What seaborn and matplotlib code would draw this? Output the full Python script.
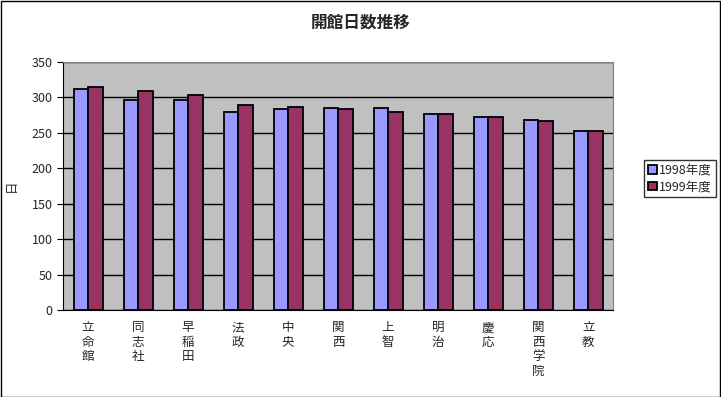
import numpy as np
import pandas as pd
import matplotlib
matplotlib.use("Agg")
import matplotlib.pyplot as plt
import seaborn as sns

# データ
universities = ["立命館", "同志社", "早稲田", "法政", "中央", "関西", "上智", "明治", "慶応", "関西学院", "立教"]
days_1998 = [312, 296, 296, 279, 283, 285, 285, 276, 273, 268, 252]
days_1999 = [314, 309, 303, 289, 286, 283, 279, 276, 272, 266, 252]
years = ["1998年度", "1999年度"]

df = pd.DataFrame({
    "大学": universities * 2,
    "年度": [years[0]] * len(universities) + [years[1]] * len(universities),
    "日数": days_1998 + days_1999,
})

sns.set_style("white")
plt.rcParams["font.family"] = ["Noto Sans CJK JP", "DejaVu Sans"]

fig = plt.figure(figsize=(7.21, 3.97), dpi=100)
ax = fig.add_axes([0.0874, 0.219, 0.763, 0.625])
ax.set_facecolor("#C0C0C0")

sns.barplot(data=df, x="大学", y="日数", hue="年度", palette=["#9999FF", "#993366"],
            saturation=1, width=0.58, gap=0, edgecolor="black", linewidth=1.3, ax=ax, zorder=3)

# 目盛り・グリッド
ax.set_ylim(0, 350)
ax.set_yticks(range(0, 351, 50))
ax.set_xlim(-0.5, len(universities) - 0.5)
ax.yaxis.grid(True, color="black", linewidth=1, zorder=1)
ax.set_axisbelow(True)
ax.set_xticks(range(len(universities)))
ax.set_xticklabels(["\n".join(u) for u in universities], fontsize=9, linespacing=1.15)
ax.set_xticks(np.arange(-0.5, len(universities), 1), minor=True)
ax.tick_params(axis="x", which="major", length=0, pad=8)
ax.tick_params(axis="x", which="minor", length=4, direction="out", color="black")
ax.tick_params(axis="y", length=4, direction="out", color="black", labelsize=9, left=True)
for s in ax.spines.values():
    s.set_visible(True)
    s.set_color("black")
ax.spines["top"].set_color("#808080")
ax.spines["right"].set_color("#808080")

ax.set_xlabel("")
ax.set_ylabel("日", rotation=90, fontsize=9, labelpad=10)
fig.suptitle("開館日数推移", x=0.5, y=0.965, fontsize=12, fontweight="bold")

leg = ax.legend(loc="center left", bbox_to_anchor=(1.045, 0.53), frameon=True, fontsize=9,
                handlelength=0.7, handleheight=0.7, handletextpad=0.2, borderpad=0.3,
                labelspacing=0.3, fancybox=False, edgecolor="black", title=None)
leg.get_frame().set_linewidth(1)

# 外枠
fig.patches.append(plt.Rectangle((0.001, 0.001), 0.998, 0.997, transform=fig.transFigure,
                                 fill=False, edgecolor="black", linewidth=1))

fig.savefig("out.png", dpi=100, facecolor="white")
